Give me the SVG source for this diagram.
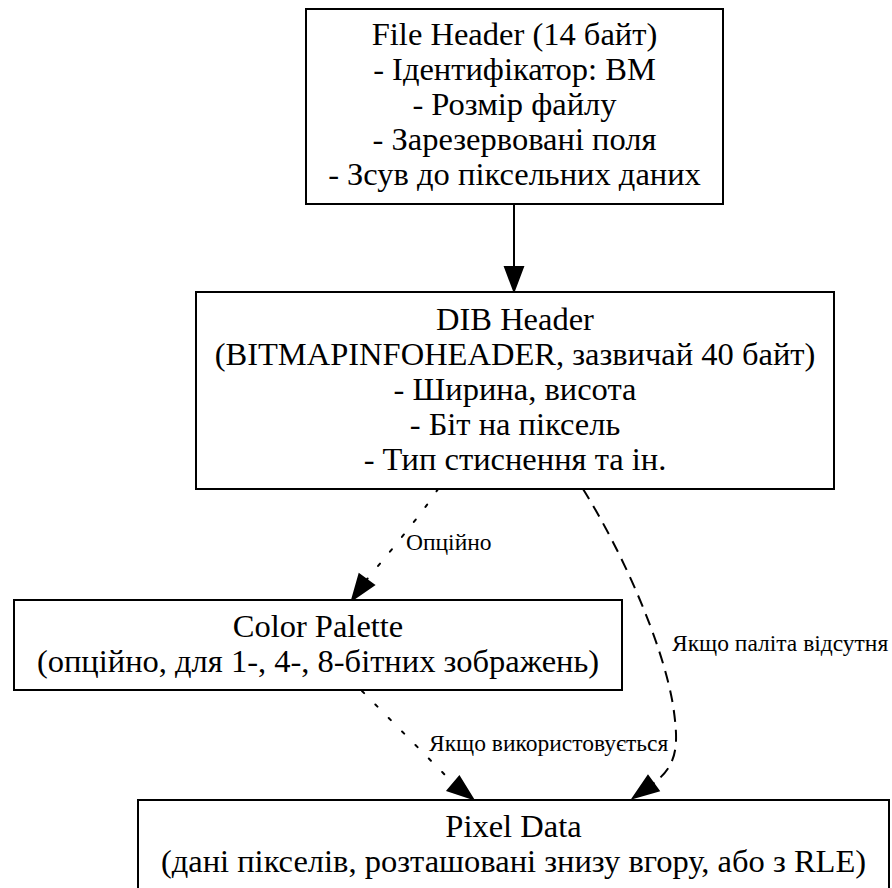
<svg xmlns="http://www.w3.org/2000/svg" width="892" height="888" viewBox="0 0 892 888">
  <style>
    .box { fill: #ffffff; stroke: #000000; stroke-width: 2; }
    .lbl { font-family: "Liberation Serif", "Times New Roman", serif; font-size: 32.5px; fill: #000000; text-anchor: middle; }
    .elbl { font-family: "Liberation Serif", "Times New Roman", serif; font-size: 23.5px; fill: #000000; }
    .edge { fill: none; stroke: #000000; stroke-width: 2; }
    .dotted { stroke-dasharray: 3 16; stroke-linecap: round; }
    .dashed { stroke-dasharray: 12 8; }
    .head { fill: #000000; stroke: #000000; stroke-width: 2; stroke-linejoin: miter; }
  </style>
  <rect width="892" height="888" fill="#ffffff"/>

  <g id="connectors">
    <!-- file header -> dib header -->
    <path class="edge" d="M514,204 L514,267"/>
    <polygon class="head" points="505,267 523,267 514,291"/>

    <!-- dib header -> color palette (optional) -->
    <path class="edge dotted" d="M438,489 C428,505 400,540 366.6,579.7"/>
    <polygon class="head" points="373.9,585 359.3,574.4 352,600"/>
    <text class="elbl" x="406" y="550">Опційно</text>

    <!-- color palette -> pixel data -->
    <path class="edge dotted" d="M362,691 L453.5,783.5"/>
    <polygon class="head" points="447.7,790.4 459.3,776.6 473,799"/>
    <text class="elbl" x="429" y="751">Якщо використовується</text>

    <!-- dib header -> pixel data (no palette) -->
    <path class="edge dashed" d="M583,489 C620,548 662,640 673,705 C679,745 678,765 653.3,783.4"/>
    <polygon class="head" points="658.6,790.7 648,776.1 633,798"/>
    <text class="elbl" x="672" y="651">Якщо паліта відсутня</text>
  </g>

  <g id="file-header">
    <rect class="box" x="306" y="9" width="417" height="195"/>
    <text class="lbl" x="514.5" y="45">File Header (14 байт)</text>
    <text class="lbl" x="514.5" y="80">- Ідентифікатор: BM</text>
    <text class="lbl" x="514.5" y="115">- Розмір файлу</text>
    <text class="lbl" x="514.5" y="150">- Зарезервовані поля</text>
    <text class="lbl" x="514.5" y="185">- Зсув до піксельних даних</text>
  </g>

  <g id="dib-header">
    <rect class="box" x="196" y="292" width="638" height="197"/>
    <text class="lbl" x="515" y="330">DIB Header</text>
    <text class="lbl" x="515" y="365">(BITMAPINFOHEADER, зазвичай 40 байт)</text>
    <text class="lbl" x="515" y="400">- Ширина, висота</text>
    <text class="lbl" x="515" y="435">- Біт на піксель</text>
    <text class="lbl" x="515" y="470">- Тип стиснення та ін.</text>
  </g>

  <g id="color-palette">
    <rect class="box" x="14" y="600" width="608" height="90"/>
    <text class="lbl" x="318" y="637">Color Palette</text>
    <text class="lbl" x="318" y="672">(опційно, для 1-, 4-, 8-бітних зображень)</text>
  </g>

  <g id="pixel-data">
    <rect class="box" x="138" y="800" width="751" height="100"/>
    <text class="lbl" x="513.5" y="837">Pixel Data</text>
    <text class="lbl" x="513.5" y="872">(дані пікселів, розташовані знизу вгору, або з RLE)</text>
  </g>
</svg>
